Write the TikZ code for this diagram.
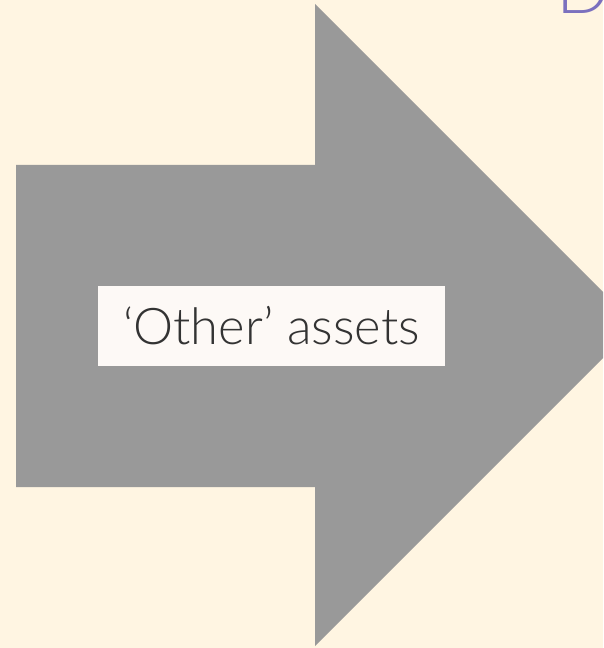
\documentclass[tikz,border=0pt]{standalone}
\usepackage{fontspec}
\setmainfont{Lato}[UprightFont=* Light]
\usetikzlibrary{positioning}
\definecolor{bg}{HTML}{FFF5E2}
\definecolor{arrowgray}{HTML}{999999}
\definecolor{tagfill}{HTML}{FDF9F6}
\definecolor{txt}{HTML}{333333}
\definecolor{violet}{HTML}{7B70BE}

\begin{document}
\begin{tikzpicture}[
  x=0.02cm, y=-0.02cm,
  tagbox/.style={fill=tagfill, minimum width=6.94cm, minimum height=1.6cm, inner sep=0pt, font=\fontsize{28.8}{31}\selectfont, text=txt},
  bigletter/.style={text=violet, font=\fontsize{40}{40}\selectfont, inner sep=0pt},
]
\useasboundingbox (0,0) rectangle (603,648);
\clip (0,0) rectangle (603,648);
\fill[bg] (0,0) rectangle (603,648);

% big grey arrow
\fill[arrowgray] (16,165) -- (315,165) -- (315,4) -- (636,325) -- (315,646) -- (315,487) -- (16,487) -- cycle;

\node[tagbox] (other) at (271.5,326) {`Other' assets};

\node[bigletter, anchor=base west] (dletter) at (556,14) {D};

\end{tikzpicture}
\end{document}
